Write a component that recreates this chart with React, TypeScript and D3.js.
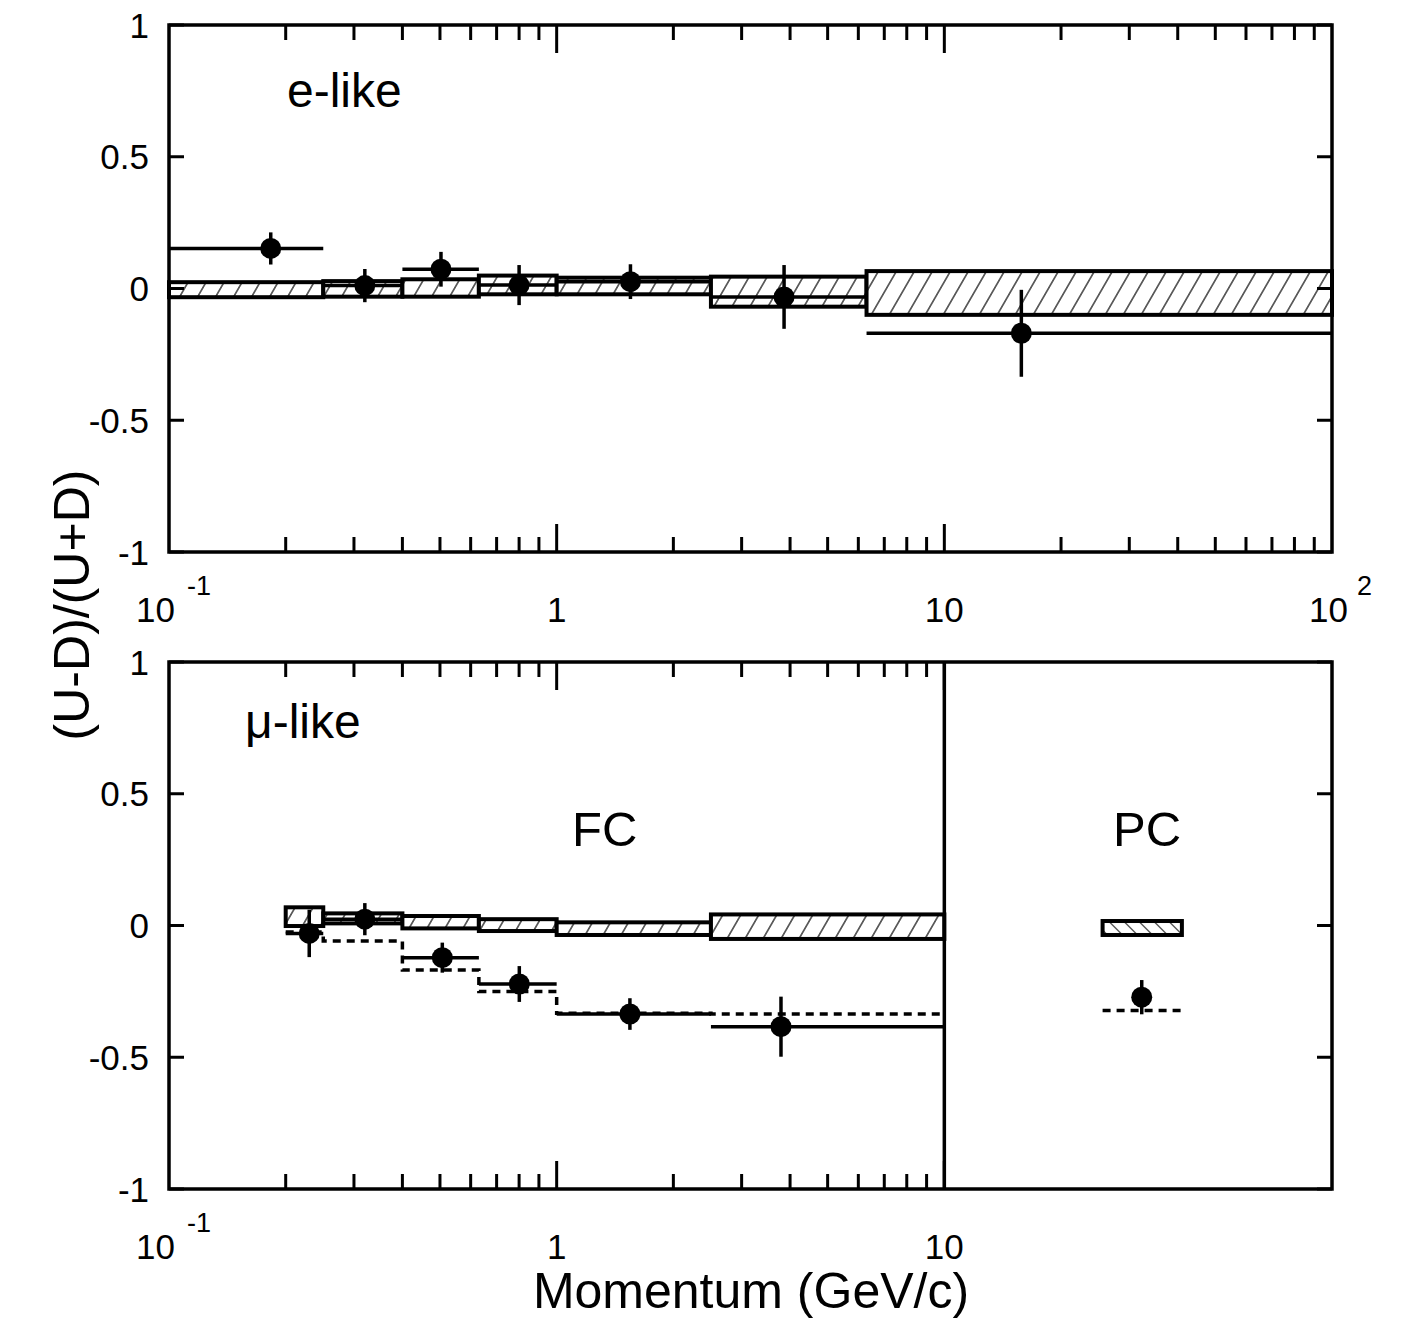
import React, { useEffect, useRef } from "react";
import * as d3 from "d3";

// ---- e-like (top panel) ----
const eEdges = [0.1, 0.25, 0.4, 0.63, 1.0, 2.5, 6.3, 100];
const eMcHi = [0.024, 0.028, 0.035, 0.049, 0.041, 0.045, 0.066];
const eMcLo = [-0.033, -0.031, -0.031, -0.022, -0.022, -0.069, -0.1];
const eX = [0.183, 0.32, 0.503, 0.8, 1.55, 3.86, 15.8];
const eY = [0.152, 0.011, 0.073, 0.013, 0.026, -0.032, -0.17];
const eErr = [0.061, 0.063, 0.066, 0.076, 0.066, 0.121, 0.165];

// ---- mu-like FC (bottom panel) ----
const muEdges = [0.2, 0.25, 0.4, 0.63, 1.0, 2.5, 10];
const muMcHi = [0.069, 0.046, 0.036, 0.024, 0.012, 0.042];
const muMcLo = [-0.002, 0.008, -0.011, -0.021, -0.036, -0.051];
const muOsc = [-0.025, -0.059, -0.169, -0.25, -0.333, -0.336];
const muX = [0.23, 0.32, 0.507, 0.801, 1.545, 3.79];
const muY = [-0.03, 0.024, -0.122, -0.222, -0.336, -0.384];
const muErr = [0.09, 0.061, 0.057, 0.068, 0.06, 0.114];

// ---- mu-like PC ----
const pcEdges = [25.6, 41];
const pcMcHi = 0.017;
const pcMcLo = -0.036;
const pcOsc = -0.323;
const pcX = 32.3;
const pcY = -0.272;
const pcErr = 0.065;

const yTicks = [-1, -0.5, 0, 0.5, 1];
const majorX = [1, 10];
const minorX = [
  0.2, 0.3, 0.4, 0.5, 0.6, 0.7, 0.8, 0.9, 2, 3, 4, 5, 6, 7, 8, 9, 20, 30, 40,
  50, 60, 70, 80, 90,
];

const FONT = "'Liberation Sans', Arial, Helvetica, sans-serif";

const App: React.FC = () => {
  const ref = useRef<SVGSVGElement>(null);

  useEffect(() => {
    if (!ref.current) return;
    const svg = d3.select(ref.current);
    svg.selectAll("*").remove();

    const x = d3.scaleLog().domain([0.1, 100]).range([169, 1332]);
    const yTop = d3.scaleLinear().domain([-1, 1]).range([552, 25]);
    const yBot = d3.scaleLinear().domain([-1, 1]).range([1189, 662]);

    const defs = svg.append("defs");
    const hatch = (id: string, w: number, skew: number) => {
      const p = defs
        .append("pattern")
        .attr("id", id)
        .attr("patternUnits", "userSpaceOnUse")
        .attr("width", w)
        .attr("height", w)
        .attr("patternTransform", `skewX(${skew})`);
      p.append("rect").attr("width", w).attr("height", w).attr("fill", "#fff");
      p.append("line")
        .attr("x1", w / 2)
        .attr("x2", w / 2)
        .attr("y1", -1)
        .attr("y2", w + 1)
        .attr("stroke", "#000")
        .attr("stroke-width", 1.3);
    };
    hatch("hatchF", 18, -30);
    hatch("hatchB", 15, 45);

    const root = svg.append("g");

    // panel frame with ticks
    const frame = (y: d3.ScaleLinear<number, number>, xMax: number) => {
      const g = root.append("g");
      const [y0, y1] = y.range();
      const xs = (v: number[]) => v.filter((d) => d <= xMax);
      const tick = (x1: number, y1_: number, x2: number, y2: number) =>
        g
          .append("line")
          .attr("x1", x1)
          .attr("x2", x2)
          .attr("y1", y1_)
          .attr("y2", y2)
          .attr("stroke", "#000")
          .attr("stroke-width", 3);
      // x ticks bottom & top
      xs(minorX).forEach((d) => {
        tick(x(d), y0, x(d), y0 - 15);
        tick(x(d), y1, x(d), y1 + 15);
      });
      xs(majorX).forEach((d) => {
        tick(x(d), y0, x(d), y0 - 28);
        tick(x(d), y1, x(d), y1 + 28);
      });
      // y ticks left & right
      yTicks.forEach((d) => {
        tick(169, y(d), 184, y(d));
        tick(1332, y(d), 1317, y(d));
        g.append("text")
          .attr("x", 149)
          .attr("y", y(d))
          .attr("dy", "0.36em")
          .attr("text-anchor", "end")
          .attr("font-size", 35)
          .attr("font-family", FONT)
          .text(d3.format("")(d).replace("−", "-"));
      });
      g.append("rect")
        .attr("x", 169)
        .attr("y", y1)
        .attr("width", 1332 - 169)
        .attr("height", y0 - y1)
        .attr("fill", "none")
        .attr("stroke", "#000")
        .attr("stroke-width", 3.5);
      return g;
    };

    const boxes = (
      y: d3.ScaleLinear<number, number>,
      edges: number[],
      hi: number[],
      lo: number[],
      fill: string
    ) => {
      hi.forEach((h, i) => {
        root
          .append("rect")
          .attr("x", x(edges[i]))
          .attr("y", y(h))
          .attr("width", x(edges[i + 1]) - x(edges[i]))
          .attr("height", y(lo[i]) - y(h))
          .attr("fill", `url(#${fill})`)
          .attr("stroke", "#000")
          .attr("stroke-width", 4);
      });
    };

    const points = (
      y: d3.ScaleLinear<number, number>,
      px: number[],
      py: number[],
      err: number[],
      edges: number[] | null
    ) => {
      px.forEach((d, i) => {
        if (edges) {
          root
            .append("line")
            .attr("x1", x(edges[i]))
            .attr("x2", x(edges[i + 1]))
            .attr("y1", y(py[i]))
            .attr("y2", y(py[i]))
            .attr("stroke", "#000")
            .attr("stroke-width", 3.5);
        }
        root
          .append("line")
          .attr("x1", x(d))
          .attr("x2", x(d))
          .attr("y1", y(py[i] - err[i]))
          .attr("y2", y(py[i] + err[i]))
          .attr("stroke", "#000")
          .attr("stroke-width", 3.5);
        root
          .append("circle")
          .attr("cx", x(d))
          .attr("cy", y(py[i]))
          .attr("r", 10.5)
          .attr("fill", "#000");
      });
    };

    // ---------- top: e-like ----------
    boxes(yTop, eEdges, eMcHi, eMcLo, "hatchF");
    points(yTop, eX, eY, eErr, eEdges);
    frame(yTop, 100);

    // ---------- bottom: mu-like ----------
    boxes(yBot, muEdges, muMcHi, muMcLo, "hatchF");
    const stepData: [number, number][] = muOsc.map((v, i) => [muEdges[i], v]);
    stepData.push([muEdges[muEdges.length - 1], muOsc[muOsc.length - 1]]);
    const step = d3
      .line<[number, number]>()
      .x((d) => x(d[0]))
      .y((d) => yBot(d[1]))
      .curve(d3.curveStepAfter);
    root
      .append("path")
      .attr("d", step(stepData))
      .attr("fill", "none")
      .attr("stroke", "#000")
      .attr("stroke-width", 3.5)
      .attr("stroke-dasharray", "8,6");
    points(yBot, muX, muY, muErr, muEdges);

    // PC
    boxes(yBot, pcEdges, [pcMcHi], [pcMcLo], "hatchB");
    root
      .append("line")
      .attr("x1", x(pcEdges[0]))
      .attr("x2", x(pcEdges[1]))
      .attr("y1", yBot(pcOsc))
      .attr("y2", yBot(pcOsc))
      .attr("stroke", "#000")
      .attr("stroke-width", 3.5)
      .attr("stroke-dasharray", "8,6");
    points(yBot, [pcX], [pcY], [pcErr], null);

    frame(yBot, 10);
    // FC / PC divider
    root
      .append("line")
      .attr("x1", x(10))
      .attr("x2", x(10))
      .attr("y1", yBot(1))
      .attr("y2", yBot(-1))
      .attr("stroke", "#000")
      .attr("stroke-width", 3.5);

    // ---------- x tick labels ----------
    const label = (
      tx: number,
      ty: number,
      s: string,
      size: number,
      anchor: string
    ) =>
      root
        .append("text")
        .attr("x", tx)
        .attr("y", ty)
        .attr("font-size", size)
        .attr("font-family", FONT)
        .attr("text-anchor", anchor)
        .text(s);

    [
      { base: 622, hasHundred: true },
      { base: 1259, hasHundred: false },
    ].forEach(({ base, hasHundred }) => {
      label(x(0.1) + 6, base, "10", 35, "end");
      label(x(0.1) + 18, base - 27, "-1", 27, "start");
      label(x(1), base, "1", 35, "middle");
      label(x(10), base, "10", 35, "middle");
      if (hasHundred) {
        label(x(100) + 16, base, "10", 35, "end");
        label(x(100) + 25, base - 27, "2", 27, "start");
      }
    });

    // ---------- titles & annotations ----------
    label(287, 107, "e-like", 48, "start");
    label(245, 738, "μ-like", 48, "start");
    label(572, 846, "FC", 49, "start");
    label(1113, 846, "PC", 49, "start");
    label(751, 1308, "Momentum (GeV/c)", 50, "middle");
    root
      .append("text")
      .attr("transform", "translate(89,605) rotate(-90)")
      .attr("font-size", 50)
      .attr("font-family", FONT)
      .attr("text-anchor", "middle")
      .text("(U-D)/(U+D)");
  }, []);

  return (
    <svg
      ref={ref}
      width={1404}
      height={1326}
      style={{ position: "absolute", left: 0, top: 0, background: "#fff" }}
    />
  );
};

export default App;
